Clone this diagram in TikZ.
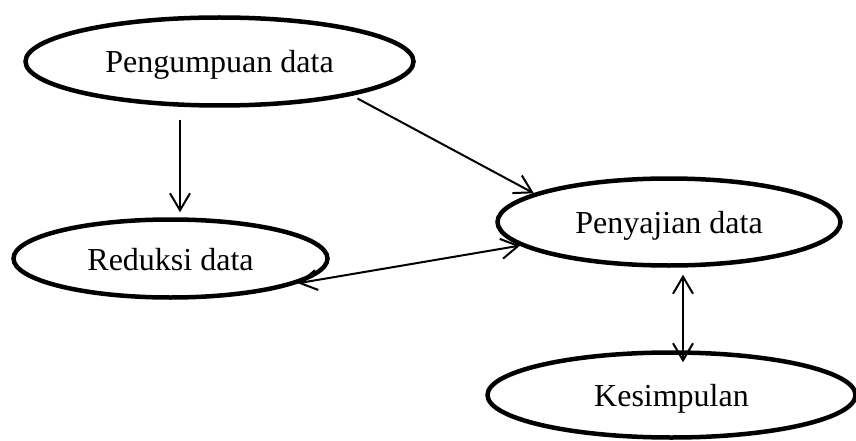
\documentclass[tikz,border=0pt]{standalone}
\usepackage{fontspec}
\setmainfont{Liberation Serif}
\usetikzlibrary{shapes.geometric,arrows.meta,calc}
\tikzset{
  oval/.style={draw=black, line width=4.5pt, ellipse, inner sep=0pt,
    font=\fontsize{32}{38}\selectfont, text height=23pt, text depth=0pt},
  arr/.style={line width=2pt, -{Straight Barb[length=17pt,width=20pt,line width=2pt]}},
  darr/.style={line width=2pt, {Straight Barb[length=17pt,width=20pt,line width=2pt]}-{Straight Barb[length=17pt,width=20pt,line width=2pt]}}
}
\begin{document}
\begin{tikzpicture}[x=1pt,y=-1pt]
\useasboundingbox (0,0) rectangle (856,441);
\node[oval, minimum width=388pt, minimum height=88pt] (e1) at (219.5,61.5) {Pengumpuan data};
\node[oval, minimum width=314pt, minimum height=78pt] (e2) at (170.5,258.5) {Reduksi data};
\node[oval, minimum width=343pt, minimum height=87pt] (e3) at (669,222) {Penyajian data};
\node[oval, minimum width=368pt, minimum height=85pt] (e4) at (671.5,395) {Kesimpulan};
\coordinate (a1s) at ($(e1.south)+(-39.5pt,-12pt)$);
\coordinate (a1e) at ($(e2.north)+(9.5pt,5pt)$);
\coordinate (a2s) at ($(e1.center)+(138pt,-37pt)$);
\coordinate (a4s) at ($(e3.south)+(14pt,-7pt)$);
\coordinate (a4e) at ($(e4.north)+(11.5pt,-12pt)$);
\draw[arr] (a1s) -- (a1e);
\draw[arr] (a2s) -- (e3.168);
\draw[darr] (e2.-11.6) -- (e3.-171.5);
\draw[darr] (a4s) -- (a4e);
\end{tikzpicture}
\end{document}
